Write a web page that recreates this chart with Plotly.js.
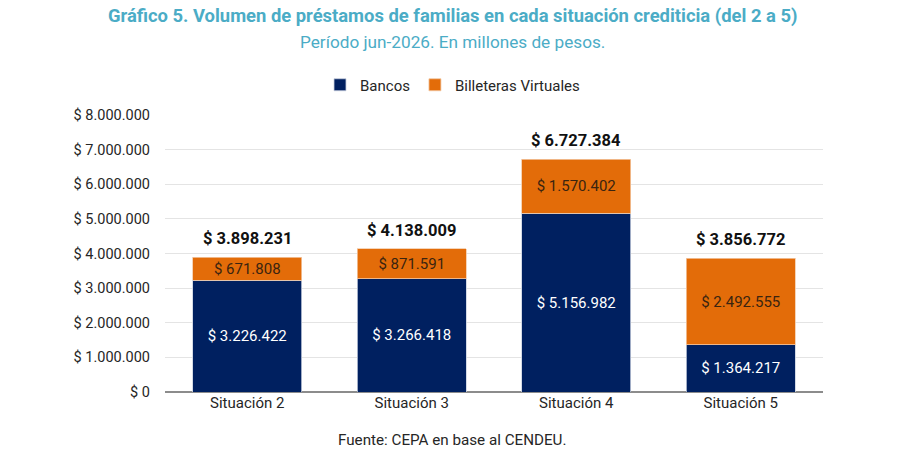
<!DOCTYPE html>
<html>
<head>
<meta charset="utf-8">
<script src="https://cdn.plot.ly/plotly-3.0.1.min.js"></script>
<style>
  html, body { margin: 0; padding: 0; background: #fff; }
  #chart { width: 905px; height: 456px; }
</style>
</head>
<body>
<div id="chart"></div>
<script>
var categorias = ['Situación 2', 'Situación 3', 'Situación 4', 'Situación 5'];
var bancos = [3226422, 3266418, 5156982, 1364217];
var billeteras = [671808, 871591, 1570402, 2492555];
var totales = [3898231, 4138009, 6727384, 3856772];

var ejeValores = [0, 1000000, 2000000, 3000000, 4000000, 5000000, 6000000, 7000000, 8000000];

var fuente = 'Roboto, Arial, sans-serif';

// plot area: x 165..823, y 115..392 (px)
var cx = (452 - 165) / 658;
function py(p) { return (392 - p) / 277; }

function pesos(v) {
  return '$ ' + String(v).replace(/\B(?=(\d{3})+(?!\d))/g, '.');
}

var data = [
  {
    type: 'bar',
    name: 'Bancos',
    x: categorias,
    y: bancos,
    marker: { color: '#002060', line: { color: '#c9d1e0', width: 0.8 } },
    texttemplate: '$ %{y:,d}',
    textposition: 'inside',
    insidetextanchor: 'middle',
    constraintext: 'none',
    textfont: { color: '#ffffff', size: 15, family: fuente },
    hoverinfo: 'skip'
  },
  {
    type: 'bar',
    name: 'Billeteras Virtuales',
    x: categorias,
    y: billeteras,
    marker: { color: '#E36C09', line: { color: '#f3c9a6', width: 0.8 } },
    texttemplate: '$ %{y:,d}',
    textposition: 'inside',
    insidetextanchor: 'middle',
    constraintext: 'none',
    textfont: { color: '#3a2410', size: 15, family: fuente },
    hoverinfo: 'skip'
  }
];

var anotaciones = [
  {
    text: '<b>Gráfico 5. Volumen de préstamos de familias en cada situación crediticia (del 2 a 5)</b>',
    xref: 'paper', yref: 'paper',
    x: cx, y: py(16),
    xanchor: 'center', yanchor: 'middle',
    showarrow: false,
    font: { size: 18.4, color: '#4BACC6', family: fuente }
  },
  {
    text: 'Período jun-2026. En millones de pesos.',
    xref: 'paper', yref: 'paper',
    x: cx, y: py(42),
    xanchor: 'center', yanchor: 'middle',
    showarrow: false,
    font: { size: 17.2, color: '#4BACC6', family: fuente }
  },
  {
    text: 'Fuente: CEPA en base al CENDEU.',
    xref: 'paper', yref: 'paper',
    x: cx, y: py(440),
    xanchor: 'center', yanchor: 'middle',
    showarrow: false,
    font: { size: 15.2, color: '#262626', family: fuente }
  }
];

for (var i = 0; i < categorias.length; i++) {
  anotaciones.push({
    text: '<b>' + pesos(totales[i]) + '</b>',
    x: categorias[i],
    y: totales[i],
    xref: 'x', yref: 'y',
    xanchor: 'center', yanchor: 'bottom',
    yshift: 7,
    showarrow: false,
    font: { size: 16.5, color: '#111111', family: fuente }
  });
}

var layout = {
  width: 905,
  height: 456,
  margin: { l: 165, r: 82, t: 115, b: 64 },
  paper_bgcolor: '#ffffff',
  plot_bgcolor: '#ffffff',
  barmode: 'stack',
  bargap: 0.34,
  separators: ',.',
  font: { family: fuente, color: '#404040', size: 14 },
  showlegend: true,
  legend: {
    orientation: 'h',
    xref: 'container',
    yref: 'container',
    x: 0.5,
    xanchor: 'center',
    y: 1 - 85 / 456,
    yanchor: 'middle',
    font: { size: 15, color: '#262626', family: fuente },
    itemwidth: 30,
    traceorder: 'normal'
  },
  xaxis: {
    type: 'category',
    showgrid: false,
    ticks: '',
    showline: false,
    tickfont: { size: 15, color: '#262626' }
  },
  yaxis: {
    range: [0, 8000000],
    tickmode: 'array',
    tickvals: ejeValores,
    ticktext: ejeValores.map(pesos),
    gridcolor: '#e4e4e4',
    gridwidth: 1,
    zeroline: true,
    zerolinecolor: '#8c8c8c',
    zerolinewidth: 1.5,
    ticks: '',
    ticklabelstandoff: 14,
    tickfont: { size: 14.5, color: '#262626' }
  },
  annotations: anotaciones
};

Plotly.newPlot('chart', data, layout, { displayModeBar: false, staticPlot: true });
</script>
</body>
</html>
